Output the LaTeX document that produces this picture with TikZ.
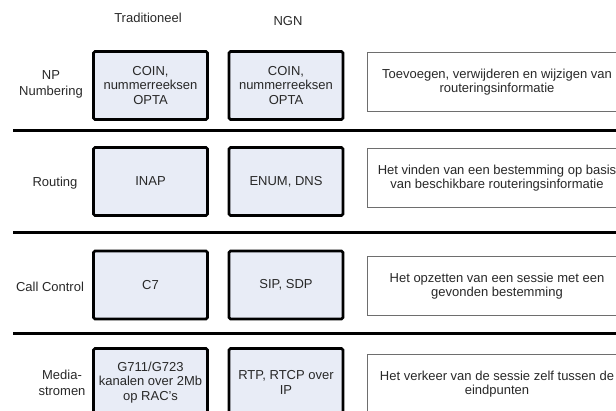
\documentclass[tikz,border=0pt]{standalone}
\usepackage{fontspec}
\setmainfont{Liberation Sans}
\definecolor{layerfill}{RGB}{232,236,246}
\definecolor{textgray}{RGB}{40,40,40}
\definecolor{framegray}{RGB}{110,110,110}
\tikzset{
  layerbox/.style={draw=black, line width=2.6pt, fill=layerfill, rounded corners=1.5pt,
    minimum width=114pt, minimum height=68pt, align=center, inner sep=2pt,
    text=textgray, font=\fontsize{13}{14.3}\selectfont},
  descbox/.style={draw=framegray, line width=1pt, fill=white,
    minimum width=259pt, minimum height=59pt, align=center, inner sep=2pt,
    text=textgray, font=\fontsize{13}{14.5}\selectfont},
  rowlabel/.style={align=center, text=textgray, font=\fontsize{13}{16}\selectfont},
  headlabel/.style={text=textgray, font=\fontsize{13}{15}\selectfont},
  sepline/.style={black, line width=3pt}
}
\begin{document}
\begin{tikzpicture}[x=1pt, y=-1pt]
\useasboundingbox (0,0) rectangle (616,410);
\clip (0,0) rectangle (616,410);
% kolomkoppen
\node[headlabel] (headtrad) at (148,18) {Traditioneel};
\node[headlabel] (headngn) at (288,21) {NGN};
% rij 1
\node[rowlabel] (lblnp) at (51,84) {NP\\Numbering};
\node[layerbox] (tradnp) at (150.5,85.5) {COIN,\\nummerreeksen\\OPTA};
\node[layerbox] (ngnnp) at (286,85.5) {COIN,\\nummerreeksen\\OPTA};
\node[descbox] (descnp) at (497,82) {Toevoegen, verwijderen en wijzigen van\\routeringsinformatie};
\draw[sepline] (13,130) -- (616,130);
% rij 2
\node[rowlabel] (lblrouting) at (55,183) {Routing};
\node[layerbox] (tradrouting) at (150.5,181.5) {INAP};
\node[layerbox] (ngnrouting) at (286,181.5) {ENUM, DNS};
\node[descbox] (descrouting) at (497,178) {Het vinden van een bestemming op basis\\van beschikbare routeringsinformatie};
\draw[sepline] (13,232) -- (616,232);
% rij 3
\node[rowlabel] (lblcall) at (50,287) {Call Control};
\node[layerbox] (tradcall) at (150.5,285) {C7};
\node[layerbox] (ngncall) at (286,285) {SIP, SDP};
\node[descbox] (desccall) at (497,286) {Het opzetten van een sessie met een\\gevonden bestemming};
\draw[sepline] (13,333) -- (616,333);
% rij 4
\node[rowlabel] (lblmedia) at (62,382.5) {Media-\\stromen};
\node[layerbox] (tradmedia) at (150.5,382.5) {G711/G723\\kanalen over 2Mb\\op RAC's};
\node[layerbox] (ngnmedia) at (286,382.5) {RTP, RTCP over\\IP};
\node[descbox] (descmedia) at (497,384) {Het verkeer van de sessie zelf tussen de\\eindpunten};
\end{tikzpicture}
\end{document}
